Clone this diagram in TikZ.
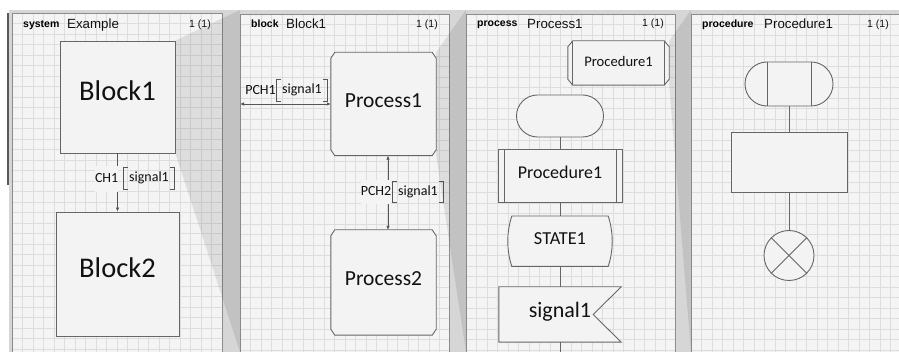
\documentclass[tikz,border=0pt]{standalone}
\usepackage{fontspec}
\setmainfont{Carlito}
\newfontfamily\hdrfont{Liberation Sans}
\usetikzlibrary{arrows.meta,shapes.misc}
\pgfdeclarelayer{back}
\pgfdeclarelayer{mid}
\pgfsetlayers{back,mid,main}
\definecolor{band}{HTML}{D6D6D6}
\definecolor{panelbg}{HTML}{F4F4F4}
\definecolor{gridc}{HTML}{DDDDDD}
\definecolor{framec}{HTML}{8C8C8C}
\definecolor{shapec}{HTML}{666666}
\definecolor{shapefill}{HTML}{F3F3F3}
\definecolor{connc}{HTML}{555555}
\definecolor{inkc}{HTML}{111111}
\tikzset{
  shp/.style={draw=shapec, line width=0.9pt, fill=shapefill},
  box/.style={shp, inner sep=0pt, text=inkc},
  bare/.style={inner sep=0pt, text=inkc},
  vc/.style={text height=0.644em, text depth=0pt},
  conn/.style={draw=connc, line width=0.8pt},
  flow/.style={draw=shapec, line width=0.9pt},
  brk/.style={draw=connc, line width=0.7pt},
  hb/.style={inner sep=0pt, font=\hdrfont\bfseries\fontsize{10.5}{12}\selectfont, text=black, anchor=base west},
  ht/.style={inner sep=0pt, font=\hdrfont\fontsize{13.3}{15}\selectfont, text=inkc, anchor=base west},
  hn/.style={inner sep=0pt, font=\hdrfont\fontsize{10.5}{12}\selectfont, text=inkc, anchor=base east},
  lbl/.style={inner sep=0pt, font=\fontsize{14}{16}\selectfont, text height=0.644em, text depth=0pt, text=inkc},
  gridl/.style={draw=gridc, line width=0.5pt},
  pframe/.style={draw=framec, line width=0.9pt},
  wedge/.style={fill=black, opacity=0.09},
}
\newcommand\mychamf[3]{%
  \draw[shp] ([xshift=#2]#1.north west) -- ([xshift=-#2]#1.north east) -- ([yshift=-#3]#1.north east) -- ([yshift=#3]#1.south east) -- ([xshift=-#2]#1.south east) -- ([xshift=#2]#1.south west) -- ([yshift=#3]#1.south west) -- ([yshift=-#3]#1.north west) -- cycle;}
\begin{document}
\begin{tikzpicture}[x=1pt,y=-1pt,>={Latex[length=4pt,width=3.6pt]}]
\useasboundingbox (0,0) rectangle (899,352);
\begin{pgfonlayer}{back}
\fill[white] (0,0) rectangle (899,352);
\fill[band] (9,10) rectangle (899,352);
\foreach \ax/\ay/\bx in {12/13/222,240/14/449,466/14/675,691/14/899}{
  \fill[panelbg] (\ax,\ay) rectangle (\bx,352);
  \begin{scope}
    \clip (\ax,\ay) rectangle (\bx,352);
    \foreach \i in {1,...,21} \draw[gridl] ({\ax+\i*10.5},\ay) -- ({\ax+\i*10.5},352);
    \foreach \j in {1,...,33} \draw[gridl] (\ax,{\ay+\j*10.5}) -- (\bx,{\ay+\j*10.5});
  \end{scope}
}
\draw[pframe] (12,352) -- (12,13) -- (222,13) -- (222,352);
\draw[pframe] (240,352) -- (240,14) -- (449,14) -- (449,352);
\draw[pframe] (466,352) -- (466,14) -- (675,14) -- (675,352);
\draw[pframe] (691,352) -- (691,14) -- (899,14);
\draw[line width=2pt, draw=black!65] (8,13) -- (8,185);
\end{pgfonlayer}

% headers
\node[hb] (h1a) at (23,28) {system};
\node[ht] (h1b) at (67,29) {Example};
\node[hn] (h1c) at (211,28) {1 (1)};
\node[hb] (h2a) at (251,28) {block};
\node[ht] (h2b) at (286,29) {Block1};
\node[hn] (h2c) at (438,28) {1 (1)};
\node[hb] (h3a) at (477,27) {process};
\node[ht] (h3b) at (527,29) {Process1};
\node[hn] (h3c) at (664,27) {1 (1)};
\node[hb] (h4a) at (702,28) {procedure};
\node[ht] (h4b) at (764,29) {Procedure1};
\node[hn] (h4c) at (889,28) {1 (1)};

% panel 1
\node[box, minimum width=115pt, minimum height=112pt, font=\fontsize{28.5}{30}\selectfont, vc] (b1) at (117.5,97) {Block1};
\node[box, minimum width=123pt, minimum height=124pt, font=\fontsize{28.5}{30}\selectfont, vc] (b2) at (117.5,274) {Block2};
\draw[conn,->] (b1.south) -- (b2.north);
\node[lbl, anchor=east, fill=panelbg, minimum height=26pt] (ch1) at (118.5,179) {CH1};
\node[lbl, minimum width=50pt, minimum height=21pt] (sl1) at (149,178.5) {signal1};
\draw[brk] ([xshift=4pt]sl1.north west) -- (sl1.north west) -- (sl1.south west) -- ([xshift=4pt]sl1.south west);
\draw[brk] ([xshift=-4pt]sl1.north east) -- (sl1.north east) -- (sl1.south east) -- ([xshift=-4pt]sl1.south east);

% panel 2
\node[bare, minimum width=105pt, minimum height=103pt, font=\fontsize{21.5}{23}\selectfont, vc] (p1) at (383.5,104) {Process1};
\node[bare, minimum width=105pt, minimum height=105pt, font=\fontsize{21.5}{23}\selectfont, vc] (p2) at (383.5,282.5) {Process2};
\begin{pgfonlayer}{mid}
\mychamf{p1}{4pt}{6pt}
\mychamf{p2}{4pt}{6pt}
\end{pgfonlayer}
\coordinate (f2) at (240,104);
\draw[conn,<->] (f2) -- (p1.west);
\draw[conn,<->] ([xshift=4.5pt]p1.south) -- ([xshift=4.5pt]p2.north);
\node[lbl, anchor=east] (pch1) at (276,91.5) {PCH1};
\node[lbl, minimum width=50pt, minimum height=21pt] (sl2) at (302,90.5) {signal1};
\draw[brk] ([xshift=4pt]sl2.north west) -- (sl2.north west) -- (sl2.south west) -- ([xshift=4pt]sl2.south west);
\draw[brk] ([xshift=-4pt]sl2.north east) -- (sl2.north east) -- (sl2.south east) -- ([xshift=-4pt]sl2.south east);
\node[lbl, anchor=east, fill=panelbg, minimum height=24pt] (pch2) at (391.5,192) {PCH2};
\node[lbl, minimum width=50pt, minimum height=20pt] (sl3) at (418,192) {signal1};
\draw[brk] ([xshift=4pt]sl3.north west) -- (sl3.north west) -- (sl3.south west) -- ([xshift=4pt]sl3.south west);
\draw[brk] ([xshift=-4pt]sl3.north east) -- (sl3.north east) -- (sl3.south east) -- ([xshift=-4pt]sl3.south east);

% panel 3
\node[bare, minimum width=101pt, minimum height=44pt, font=\fontsize{14.6}{16}\selectfont, vc] (pr) at (618.5,63) {Procedure1};
\node[box, rounded rectangle, minimum width=87pt, minimum height=42pt] (s0) at (560,116) {};
\node[box, minimum width=124pt, minimum height=52.5pt, font=\fontsize{18}{20}\selectfont, vc] (pc) at (560,175.75) {Procedure1};
\draw[flow] ([xshift=6.5pt]pc.north west) -- ([xshift=6.5pt]pc.south west);
\draw[flow] ([xshift=-6.5pt]pc.north east) -- ([xshift=-6.5pt]pc.south east);
\node[bare, minimum width=104pt, minimum height=50pt, font=\fontsize{18.3}{20}\selectfont, vc] (st1) at (560,241.25) {STATE1};
\node[bare, minimum width=122pt, minimum height=55pt, font=\fontsize{22}{24}\selectfont, vc] (sg) at (560,314.5) {signal1};
\begin{pgfonlayer}{mid}
\mychamf{pr}{5pt}{6pt}
\draw[flow] ([xshift=5pt]pr.north west) -- ([xshift=5pt]pr.south west);
\draw[flow] ([xshift=-5pt]pr.north east) -- ([xshift=-5pt]pr.south east);
\draw[shp] ([xshift=4pt]st1.north west) -- ([xshift=-4pt]st1.north east)
  .. controls ([xshift=1.34pt,yshift=-16.25pt]st1.north east) and ([xshift=1.34pt,yshift=16.25pt]st1.south east) .. ([xshift=-4pt]st1.south east)
  -- ([xshift=4pt]st1.south west)
  .. controls ([xshift=-1.34pt,yshift=16.25pt]st1.south west) and ([xshift=-1.34pt,yshift=-16.25pt]st1.north west) .. cycle;
\draw[shp] (sg.north west) -- (sg.north east) -- ([xshift=-28pt]sg.east) -- (sg.south east) -- (sg.south west) -- cycle;
\end{pgfonlayer}
\coordinate (e3) at (560,352);
\draw[flow] (s0.south) -- (pc.north);
\draw[flow] (pc.south) -- (st1.north);
\draw[flow] (st1.south) -- (sg.north);
\draw[flow] (sg.south) -- (e3);

% panel 4
\node[box, rounded rectangle, minimum width=88pt, minimum height=44pt] (ps) at (789,84) {};
\draw[flow] ([xshift=-22pt]ps.north) -- ([xshift=-22pt]ps.south);
\draw[flow] ([xshift=22pt]ps.north) -- ([xshift=22pt]ps.south);
\node[box, minimum width=116pt, minimum height=60pt] (tk) at (789,162) {};
\node[box, circle, minimum size=50pt] (sp) at (789,255.5) {};
\draw[flow] (sp.north west) -- (sp.south east);
\draw[flow] (sp.north east) -- (sp.south west);
\draw[flow] (ps.south) -- (tk.north);
\draw[flow] (tk.south) -- (sp.north);

% zoom wedges
\begin{pgfonlayer}{back}
\fill[wedge] (b1.north east) -- (240,10) -- (240,352) -- (b1.south east) -- cycle;
\fill[wedge] (p1.north east) -- (466,10) -- (466,352) -- (p1.south east) -- cycle;
\fill[wedge] (pr.north east) -- (691,10) -- (691,352) -- (pr.south east) -- cycle;
\end{pgfonlayer}
\end{tikzpicture}
\end{document}
